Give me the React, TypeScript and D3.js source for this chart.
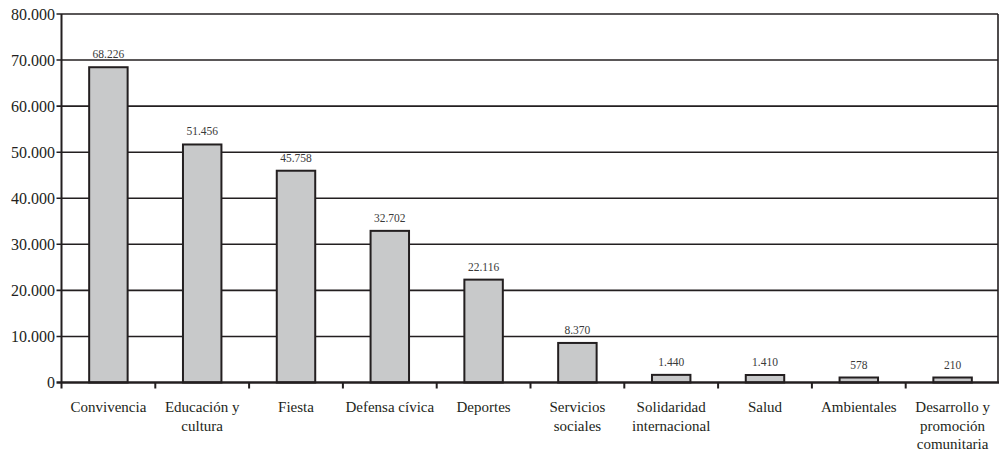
import React, { useEffect, useRef } from 'react'
import * as d3 from 'd3'

const categories = [
  ['Convivencia'],
  ['Educación y', 'cultura'],
  ['Fiesta'],
  ['Defensa cívica'],
  ['Deportes'],
  ['Servicios', 'sociales'],
  ['Solidaridad', 'internacional'],
  ['Salud'],
  ['Ambientales'],
  ['Desarrollo y', 'promoción', 'comunitaria'],
]
const values = [68226, 51456, 45758, 32702, 22116, 8370, 1440, 1410, 578, 210]
const yTicks = [0, 10000, 20000, 30000, 40000, 50000, 60000, 70000, 80000]

const fmt = (v: number) => d3.format(',')(v).replace(/,/g, '.')

const App: React.FC = () => {
  const ref = useRef<SVGSVGElement>(null)

  useEffect(() => {
    const width = 999
    const height = 452
    const left = 61.5
    const right = 999.5
    const top = 14
    const bottom = 382.5
    const ink = '#231f20'
    const minBar = 4 // small values still show a thin bar

    const svg = d3.select(ref.current)
    svg.selectAll('*').remove()

    const keys = categories.map((_, i) => String(i))
    const x = d3.scaleBand().domain(keys).range([left, right]).padding(0)
    const y = d3.scaleLinear().domain([0, 80000]).range([bottom, top])
    const barW = x.bandwidth() * 0.41
    const barTop = (d: number) => Math.min(y(d), bottom - minBar)

    // grid lines
    svg
      .append('g')
      .selectAll('line')
      .data(yTicks.filter((t) => t > 0))
      .enter()
      .append('line')
      .attr('x1', left - 5)
      .attr('x2', 998)
      .attr('y1', (d) => y(d))
      .attr('y2', (d) => y(d))
      .attr('stroke', ink)
      .attr('stroke-width', 1.6)

    // y tick labels
    svg
      .append('g')
      .selectAll('text')
      .data(yTicks)
      .enter()
      .append('text')
      .attr('x', 55)
      .attr('y', (d) => y(d) + 5.5)
      .attr('text-anchor', 'end')
      .attr('font-family', 'Liberation Serif, serif')
      .attr('font-size', 16)
      .attr('fill', ink)
      .text((d) => fmt(d))

    // bars
    svg
      .append('g')
      .selectAll('rect')
      .data(values)
      .enter()
      .append('rect')
      .attr('x', (_, i) => (x(String(i)) as number) + x.bandwidth() / 2 - barW / 2)
      .attr('y', (d) => barTop(d) - 1)
      .attr('width', barW)
      .attr('height', (d) => bottom - barTop(d) + 1)
      .attr('fill', '#c8c9ca')
      .attr('stroke', ink)
      .attr('stroke-width', 2)

    // value labels
    svg
      .append('g')
      .selectAll('text')
      .data(values)
      .enter()
      .append('text')
      .attr('x', (_, i) => (x(String(i)) as number) + x.bandwidth() / 2)
      .attr('y', (d) => barTop(d) - 10)
      .attr('text-anchor', 'middle')
      .attr('font-family', 'Liberation Serif, serif')
      .attr('font-size', 11.5)
      .attr('fill', '#3a3a3a')
      .text((d) => fmt(d))

    // axes frame
    svg
      .append('line')
      .attr('x1', left)
      .attr('x2', left)
      .attr('y1', top)
      .attr('y2', bottom + 6)
      .attr('stroke', ink)
      .attr('stroke-width', 2)
    svg
      .append('line')
      .attr('x1', 998)
      .attr('x2', 998)
      .attr('y1', top)
      .attr('y2', bottom)
      .attr('stroke', ink)
      .attr('stroke-width', 1.6)
    svg
      .append('line')
      .attr('x1', left - 5)
      .attr('x2', 999)
      .attr('y1', bottom)
      .attr('y2', bottom)
      .attr('stroke', ink)
      .attr('stroke-width', 2.6)

    // x ticks at category boundaries
    svg
      .append('g')
      .selectAll('line')
      .data(keys.slice(1))
      .enter()
      .append('line')
      .attr('x1', (d) => x(d) as number)
      .attr('x2', (d) => x(d) as number)
      .attr('y1', bottom)
      .attr('y2', bottom + 6)
      .attr('stroke', ink)
      .attr('stroke-width', 2)

    // category labels
    const lab = svg
      .append('g')
      .selectAll('text')
      .data(categories)
      .enter()
      .append('text')
      .attr('text-anchor', 'middle')
      .attr('font-family', 'Liberation Serif, serif')
      .attr('font-size', 15)
      .attr('fill', ink)
      .attr('transform', (_, i) => `translate(${(x(String(i)) as number) + x.bandwidth() / 2}, 412)`)
    lab
      .selectAll('tspan')
      .data((d) => d)
      .enter()
      .append('tspan')
      .attr('x', 0)
      .attr('y', (_, j) => j * 18.5)
      .text((d) => d)

    svg.attr('width', width).attr('height', height)
  }, [])

  return (
    <svg
      ref={ref}
      width={999}
      height={452}
      style={{ position: 'absolute', left: 0, top: 0, background: '#fff' }}
    />
  )
}

export default App
